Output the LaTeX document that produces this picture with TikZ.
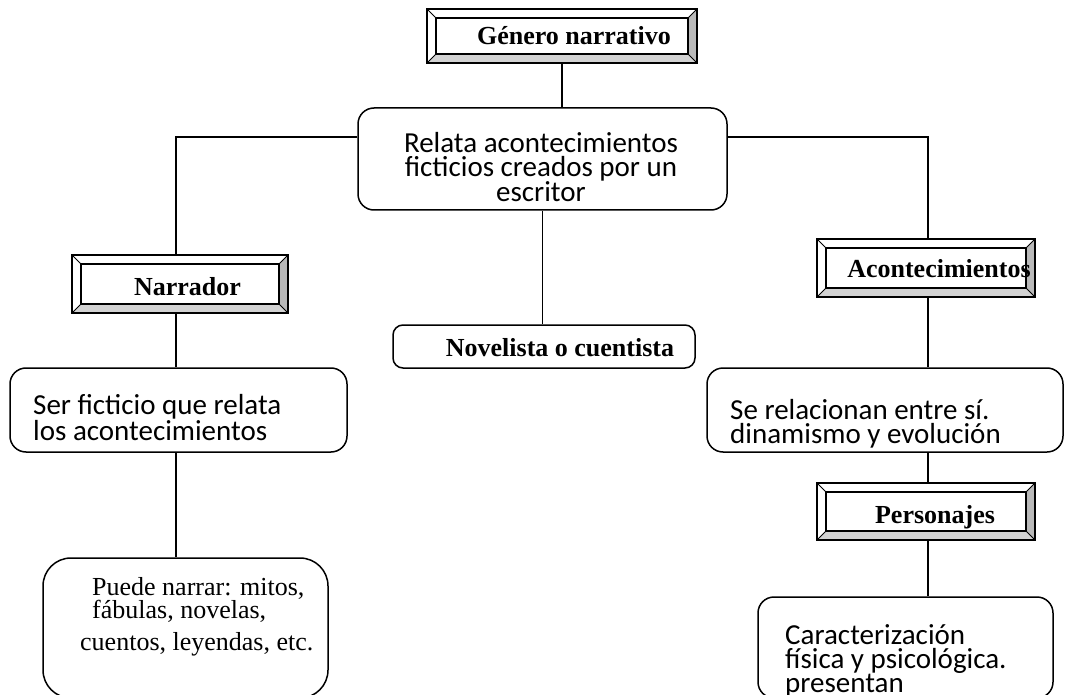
\documentclass[tikz,border=0pt]{standalone}
\usepackage{fontspec}
\setmainfont{Liberation Serif}
\newfontfamily\calfont{Carlito}
\usetikzlibrary{calc}

\tikzset{
  conn/.style={line width=1.5pt},
  rbox/.style={draw, line width=1.5pt, rounded corners=16pt, inner sep=0pt},
  bframe/.style={inner sep=0pt},
  btxt/.style={font=\fontsize{26}{30}\selectfont\bfseries, inner sep=0pt, anchor=base},
  stxt/.style={font=\calfont\fontsize{29}{24}\selectfont, inner sep=0pt, align=left, anchor=base west},
  ctxt/.style={font=\calfont\fontsize{29}{24}\selectfont, inner sep=0pt, align=center, anchor=base},
  rtxt/.style={font=\fontsize{26}{19}\selectfont, inner sep=0pt, align=left, anchor=base west},
}

\newcommand\bevelframe[1]{%
  \fill[gray!55] (#1.north east) -- (#1.south east) -- ([shift={(-9pt,9pt)}]#1.south east) -- ([shift={(-9pt,-9pt)}]#1.north east) -- cycle;
  \fill[gray!35] (#1.south west) -- (#1.south east) -- ([shift={(-9pt,9pt)}]#1.south east) -- ([shift={(9pt,9pt)}]#1.south west) -- cycle;
  \draw[line width=0.8pt] (#1.north west) -- ([shift={(9pt,-9pt)}]#1.north west)
                          (#1.north east) -- ([shift={(-9pt,-9pt)}]#1.north east)
                          (#1.south west) -- ([shift={(9pt,9pt)}]#1.south west)
                          (#1.south east) -- ([shift={(-9pt,9pt)}]#1.south east);
  \draw[line width=1.8pt] ([shift={(9pt,-9pt)}]#1.north west) rectangle ([shift={(-9pt,9pt)}]#1.south east);
  \draw[line width=1.8pt] (#1.north west) rectangle (#1.south east);
}

\begin{document}
\begin{tikzpicture}[x=1pt,y=-1pt]
\useasboundingbox (0,0) rectangle (1068,695);

% boxes
\node[bframe, minimum width=270pt, minimum height=54pt] (gen) at (562,36) {};
\node[bframe, minimum width=216pt, minimum height=58pt] (nar) at (180,284) {};
\node[bframe, minimum width=218pt, minimum height=58pt] (acon) at (926,268) {};
\node[bframe, minimum width=218pt, minimum height=57pt] (per) at (926,511.5) {};

\node[rbox, minimum width=369pt, minimum height=102pt] (rel) at (542.5,159) {};
\node[rbox, rounded corners=10pt, minimum width=302pt, minimum height=43pt] (nov) at (544,346.5) {};
\node[rbox, minimum width=337pt, minimum height=84pt] (ser) at (178.5,410) {};
\node[rbox, minimum width=356pt, minimum height=84pt] (sel) at (885,410) {};
\node[rbox, rounded corners=28pt, minimum width=285pt, minimum height=140pt] (pue) at (185.5,628) {};
\node[rbox, minimum width=295pt, minimum height=101pt] (car) at (905.5,647.5) {};

\bevelframe{gen}
\bevelframe{nar}
\bevelframe{acon}
\bevelframe{per}

% junction coordinates
\coordinate (lx) at (176,137);
\coordinate (rx) at (928,137);

% connectors
\draw[conn] (gen.south) -- (gen.south |- rel.north);
\draw[conn] (rel.west |- lx) -- (lx) -- (lx |- nar.north);
\draw[conn] (rel.east |- rx) -- (rx) -- (rx |- acon.north);
\draw[conn] (rel.south) -- (rel.south |- nov.north);
\draw[conn] (lx |- nar.south) -- (lx |- ser.north);
\draw[conn] (lx |- ser.south) -- (lx |- pue.north);
\draw[conn] (rx |- acon.south) -- (rx |- sel.north);
\draw[conn] (rx |- sel.south) -- (rx |- per.north);
\draw[conn] (rx |- per.south) -- (rx |- car.north);

% texts
\node[btxt] (genT) at (574,45) {Género narrativo};
\node[btxt] (narT) at (187.5,295) {Narrador};
\node[btxt] (aconT) at (939,277) {Acontecimientos};
\node[btxt] (perT) at (935,523) {Personajes};
\node[btxt] (novT) at (560,356) {Novelista o cuentista};

\node[ctxt] (relT) at (541,202) {Relata acontecimientos\\ficticios creados por un\\escritor};
\node[stxt] (serT) at (33,440) {Ser ficticio que relata\\los acontecimientos};
\node[stxt] (selT) at (730,443) {Se relacionan entre sí.\\dinamismo y evolución};
\node[stxt] (carT) at (785,692) {Caracterización\\física y psicológica.\\presentan};
\node[rtxt] (pueT) at (80,650) {\hspace*{12pt}Puede narrar: mitos,\\\hspace*{12pt}fábulas, novelas,\\[8pt]cuentos, leyendas, etc.};
\end{tikzpicture}
\end{document}
